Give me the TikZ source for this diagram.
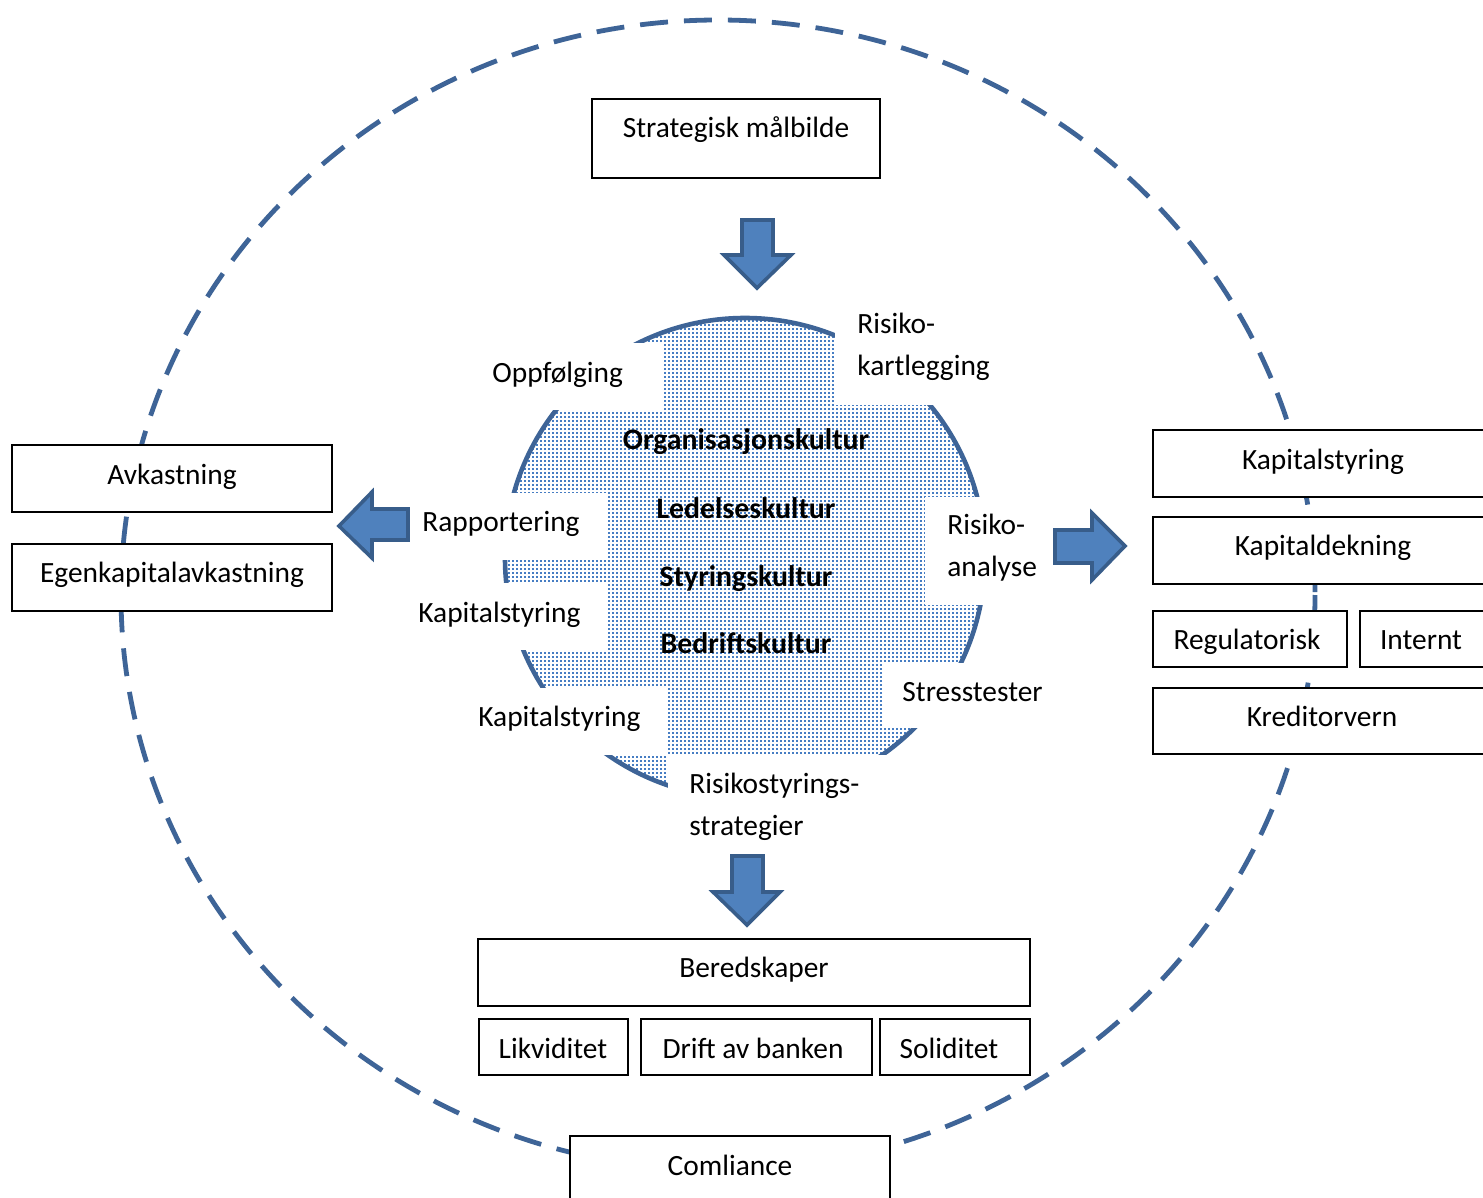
\documentclass[tikz,border=0pt]{standalone}
\usepackage{fontspec}
\setmainfont{Carlito}
\usetikzlibrary{fit,patterns}
\pgfdeclarepatternformonly{cdots}{\pgfqpoint{-0.5pt}{-0.5pt}}{\pgfqpoint{1.5pt}{1.5pt}}{\pgfqpoint{2pt}{2pt}}{\pgfpathrectangle{\pgfqpoint{0pt}{0pt}}{\pgfqpoint{0.85pt}{0.85pt}}\pgfusepath{fill}}
\definecolor{ringcol}{RGB}{62,100,151}
\definecolor{arrowfill}{RGB}{79,129,189}
\definecolor{arrowline}{RGB}{56,93,138}
\definecolor{dotblue}{RGB}{70,125,195}
\begin{document}
\begin{tikzpicture}[x=0.5pt,y=-0.5pt,
 box/.style={draw=black, fill=white, line width=0.6pt, inner sep=0pt},
 mask/.style={fill=white, draw=none, inner sep=0pt},
 txt/.style={font=\fontsize{14.7pt}{20.5pt}\selectfont, inner sep=0pt, anchor=base},
 ltxt/.style={txt, anchor=base west},
 btxt/.style={txt, font=\fontsize{14.9pt}{20.5pt}\selectfont\bfseries},
 bluearrow/.style={fill=arrowfill, draw=arrowline, line width=1.8pt, line join=miter},
 ringline/.style={draw=ringcol, line width=2.4pt, dash pattern=on 14pt off 8pt},
]
\useasboundingbox (0,0) rectangle (1483,1198);
\clip (0,0) rectangle (1483,1198);
\fill[white] (0,0) rectangle (1483,1198);

% outer dashed ring
\draw[ringline] (718,595) ellipse [x radius=597, y radius=575];

% central circle
\fill[white] (745,558) circle [radius=240];
\fill[pattern=cdots, pattern color=dotblue] (745,558) circle [radius=240];
\draw[draw=ringcol, line width=2.3pt] (745,558) circle [radius=240];

% white masks behind circle labels
\node[mask, fit={(470,343) (663,410)}] (mOpp) {};
\node[mask, fit={(835,300) (1005,405)}] (mKart) {};
\node[mask, fit={(410,493) (606,560)}] (mRap) {};
\node[mask, fit={(408,583) (606,650)}] (mKap1) {};
\node[mask, fit={(465,688) (667,755)}] (mKap2) {};
\node[mask, fit={(925,497) (1050,605)}] (mAna) {};
\node[mask, fit={(882,663) (1050,728)}] (mStress) {};
\node[mask, fit={(668,755) (900,848)}] (mStrat) {};

% circle labels
\node[ltxt] (opp) at (492,382) {Oppfølging};
\node[ltxt] (kartA) at (857,334) {Risiko-};
\node[ltxt] (kartB) at (857,375) {kartlegging};
\node[ltxt] (rap) at (422,531) {Rapportering};
\node[ltxt] (kap1) at (418,622) {Kapitalstyring};
\node[ltxt] (kap2) at (478,726) {Kapitalstyring};
\node[ltxt] (anaA) at (947,534) {Risiko-};
\node[ltxt] (anaB) at (947,576) {analyse};
\node[ltxt] (stress) at (902,701) {Stresstester};
\node[ltxt] (stratA) at (689,793) {Risikostyrings-};
\node[ltxt] (stratB) at (689,835) {strategier};

% bold culture labels
\node[btxt] (org) at (746,449) {Organisasjonskultur};
\node[btxt] (led) at (746,518) {Ledelseskultur};
\node[btxt] (sty) at (746,586) {Styringskultur};
\node[btxt] (bed) at (746,653) {Bedriftskultur};

% boxes
\node[box, fit={(592,99) (880,178)}] (strat) {};
\node[txt] (stratT) at (736,138) {Strategisk målbilde};

\node[box, fit={(12,445) (332,512)}] (avk) {};
\node[txt] (avkT) at (172,484) {Avkastning};
\node[box, fit={(12,544) (332,611)}] (egen) {};
\node[txt] (egenT) at (172,582) {Egenkapitalavkastning};

\node[box, fit={(1153,430) (1500,497)}] (kapR) {};
\node[txt] (kapRT) at (1323,469) {Kapitalstyring};
\node[box, fit={(1153,517) (1500,584)}] (kapd) {};
\node[txt] (kapdT) at (1323,555) {Kapitaldekning};
\node[box, fit={(1153,611) (1347,667)}] (reg) {};
\node[txt] (regT) at (1247,649) {Regulatorisk};
\node[box, fit={(1360,611) (1500,667)}] (int) {};
\node[txt] (intT) at (1421,649) {Internt};
\node[box, fit={(1153,688) (1500,754)}] (kred) {};
\node[txt] (kredT) at (1322,726) {Kreditorvern};

\node[box, fit={(478,939) (1030,1006)}] (bered) {};
\node[txt] (beredT) at (754,977) {Beredskaper};
\node[box, fit={(479,1019) (628,1075)}] (likv) {};
\node[txt] (likvT) at (553,1058) {Likviditet};
\node[box, fit={(641,1019) (872,1075)}] (drift) {};
\node[txt] (driftT) at (753,1058) {Drift av banken};
\node[box, fit={(880,1019) (1030,1075)}] (soli) {};
\node[txt] (soliT) at (949,1058) {Soliditet};

\node[box, fit={(570,1136) (890,1240)}] (comp) {};
\node[txt] (compT) at (730,1175) {Comliance};

% block arrows
\draw[bluearrow] (742,220) -- (773,220) -- (773,255) -- (791,255) -- (757,288) -- (724,255) -- (742,255) -- cycle;
\draw[bluearrow] (732,856) -- (763,856) -- (763,892) -- (780,892) -- (747,925) -- (713,892) -- (732,892) -- cycle;
\draw[bluearrow] (1055,530) -- (1092,530) -- (1092,513) -- (1125,546) -- (1092,580) -- (1092,563) -- (1055,563) -- cycle;
\draw[bluearrow] (408,509) -- (372,509) -- (372,492) -- (339,526) -- (372,558) -- (372,540) -- (408,540) -- cycle;
\end{tikzpicture}
\end{document}
